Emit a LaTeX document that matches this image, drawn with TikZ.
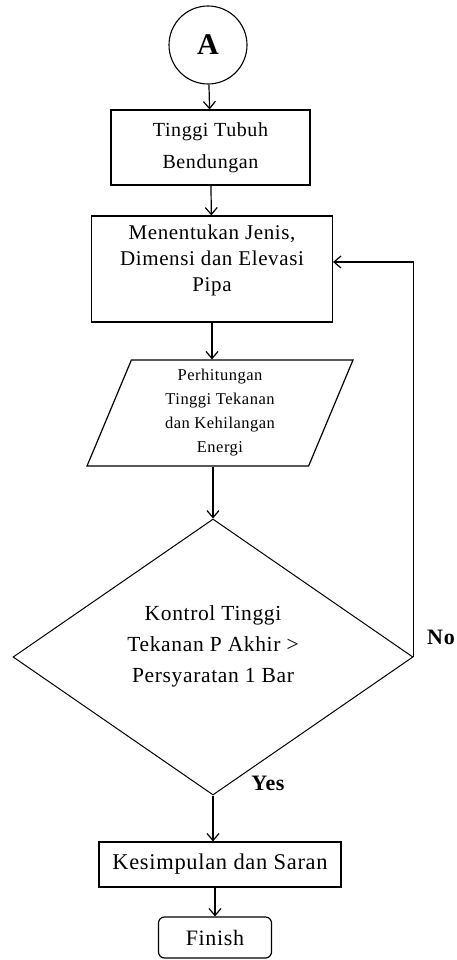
\documentclass[tikz,border=0pt]{standalone}
\usepackage{fontspec}
\setmainfont{Liberation Serif}[LetterSpace=3]
\usepackage{tikz}
\usetikzlibrary{arrows,arrows.meta,shapes}
\tikzstyle{process}=[draw,rectangle,line width=1.2pt,align=center,inner sep=2pt]
\tikzstyle{terminal}=[draw,circle,line width=1.1pt,minimum size=78pt,inner sep=0pt]
\tikzstyle{decision}=[draw,diamond,line width=1pt,align=center,aspect=1.45,inner sep=0pt]
\tikzstyle{inout}=[draw,trapezium,trapezium left angle=64,trapezium right angle=116,trapezium stretches body,line width=1.2pt,align=center,inner sep=2pt]
\tikzstyle{answer}=[font=\fontsize{22}{22}\selectfont\bfseries]
\tikzstyle{edge} = [draw,line width=1.2pt,-{Straight Barb[length=7pt,width=12pt]}]

\begin{document}
\begin{tikzpicture}[x=1pt,y=-1pt]
      \useasboundingbox (0,0) rectangle (457,960);
      \node[terminal,font=\fontsize{30}{30}\selectfont\bfseries] (A) at (208,45) {A};
      \node[process,minimum width=199pt,minimum height=75pt,font=\fontsize{20}{32}\selectfont] (tinggi) at (210.5,147.5) {Tinggi Tubuh\\Bendungan};
      \node[process,minimum width=241pt,minimum height=106pt,text depth=21pt,font=\fontsize{21}{26}\selectfont] (jenis) at (212,269) {Menentukan Jenis,\\Dimensi dan Elevasi\\Pipa};
      \node[inout,minimum width=266pt,minimum height=106pt,font=\fontsize{16.5}{24}\selectfont] (hitung) at (220,413) {Perhitungan\\Tinggi Tekanan\\dan Kehilangan\\Energi};
      \node[decision,minimum width=400pt,minimum height=276pt,text depth=26pt,font=\fontsize{21.5}{31}\selectfont] (kontrol) at (213,657) {Kontrol Tinggi\\Tekanan P Akhir >\\Persyaratan 1 Bar};
      \node[process,minimum width=242pt,minimum height=45pt,font=\fontsize{22.5}{23}\selectfont] (kesimpulan) at (220,864.5) {Kesimpulan dan Saran};
      \node[process,rounded corners=6pt,minimum width=113pt,minimum height=41pt,font=\fontsize{22}{22}\selectfont] (finish) at (215,937.5) {Finish};
      \node[answer] (no) at (441,637) {No};
      \node[answer] (yes) at (268,783) {Yes};
      \draw[edge] (A) -- (tinggi);
      \draw[edge] (tinggi) -- (jenis);
      \draw[edge] (jenis) -- (jenis |- hitung.north);
      \draw[edge] (kontrol |- hitung.south) -- (kontrol);
      \draw[edge] (kontrol) -- (kontrol |- kesimpulan.north);
      \draw[edge] (kesimpulan.south -| finish) -- (finish);
      \draw[edge] (kontrol.east) |- ([yshift=7pt]jenis.east);
  \end{tikzpicture}
\end{document}
